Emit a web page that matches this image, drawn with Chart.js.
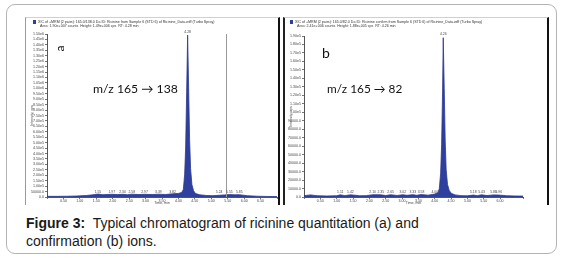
<!DOCTYPE html>
<html><head><meta charset="utf-8">
<script src="https://cdn.jsdelivr.net/npm/chart.js@4.4.1/dist/chart.umd.min.js"></script>
<style>
html,body{margin:0;padding:0;background:#fff;width:563px;height:259px;overflow:hidden;}
#frame{position:absolute;left:6px;top:4px;width:549px;height:248px;border:1px solid #b4b4b4;border-radius:9px;}
.panel{position:absolute;top:17px;height:187px;background:#fff;}
#pa{left:25px;width:252px;border-left:1px solid #9a9a9a;border-top:1px solid #d0d0d0;border-right:2px solid #111;}
#pb{left:283px;width:262px;border-left:2px solid #222;border-top:1px solid #d0d0d0;border-right:2px solid #111;}
canvas{position:absolute;left:0;top:0;}
.lbl{position:absolute;font-family:Lato,'Open Sans',sans-serif;color:#111;white-space:nowrap;}
#caption{position:absolute;left:26px;top:214px;font-family:'Liberation Sans',Arial,sans-serif;font-size:14px;line-height:18px;color:#1a1a1a;}
</style></head>
<body>
<div id="frame"></div>
<div class="panel" id="pa"><canvas id="ca" width="252" height="187"></canvas>
  <div class="lbl" style="left:31px;top:23px;font-size:12px;transform:rotate(-90deg);">a</div>
  <div class="lbl" style="left:67px;top:63px;font-size:12.2px;">m/z 165 → 138</div>
</div>
<div class="panel" id="pb"><canvas id="cb" width="262" height="187"></canvas>
  <div class="lbl" style="left:37px;top:26px;font-size:14px;">b</div>
  <div class="lbl" style="left:42px;top:63px;font-size:11.8px;">m/z 165 → 82</div>
</div>
<div id="caption"><b>Figure 3:</b>&nbsp; Typical chromatogram of ricinine quantitation (a) and<br>confirmation (b) ions.</div>
<script>
// ---- Panel a: m/z 165 -> 138 (quantitation) ----
const timesA = [0.0,0.3,0.6,0.9,1.2,1.4,1.55,1.7,1.97,2.15,2.30,2.45,2.58,2.8,2.97,3.2,3.39,3.6,3.82,4.0,4.10,4.15,4.19,4.22,4.25,4.28,4.31,4.34,4.37,4.41,4.46,4.52,4.65,4.85,5.05,5.24,5.4,5.55,5.7,5.85,6.1,6.4,6.7,7.0];
const intensA = [6000,6000,7000,9000,14000,20000,27000,21000,25000,22000,25000,21000,26000,22000,25000,22000,26000,23000,29000,33000,42000,70000,210000,460000,960000,1490000,1010000,530000,260000,115000,58000,32000,20000,14000,12000,16000,19000,23000,20000,21000,12000,7000,5000,4000];
const peakLabelsA = ["1.55","1.97","2.30","2.58","2.97","3.39","3.82","5.24","5.55","5.85"];
const apexA = "4.28";
const markerLineA = 5.45;
const headerA = ["XIC of +MRM (2 pairs): 165.0/138.0 Da ID: Ricinine from Sample 6 (STD 6) of Ricinine_Data.wiff (Turbo Spray)",
                 "Area: 1.90e+007 counts  Height: 1.49e+006 cps  RT: 4.28 min"];
// ---- Panel b: m/z 165 -> 82 (confirmation) ----
const timesB = [0.0,0.2,0.4,0.7,1.0,1.11,1.25,1.42,1.7,1.9,2.10,2.35,2.5,2.65,2.85,3.02,3.15,3.33,3.45,3.58,3.8,4.0,4.10,4.14,4.18,4.21,4.24,4.26,4.29,4.32,4.35,4.39,4.44,4.50,4.62,4.8,5.0,5.18,5.3,5.43,5.6,5.8,5.96,6.2,6.45,6.7];
const intensB = [1500,2500,1500,1200,1500,2600,1600,2600,1500,1600,2700,2600,1700,2700,1800,2700,2000,2800,2000,2900,2200,3500,5000,10000,28000,62000,125000,188000,128000,66000,32000,15000,8000,4500,2500,1600,1400,2300,1600,2600,1700,2500,2300,1500,1200,1100];
const peakLabelsB = ["1.11","1.42","2.10","2.35","2.65","3.02","3.33","3.58","4.00","5.18","5.43","5.80","5.96"];
const apexB = "4.26";
const headerB = ["XIC of +MRM (2 pairs): 165.0/82.0 Da ID: Ricinine confirm from Sample 6 (STD 6) of Ricinine_Data.wiff (Turbo Spray)",
                 "Area: 2.41e+006 counts  Height: 1.88e+005 cps  RT: 4.26 min"];

function yFmt(v){
  if (v >= 1e6) return (v/1e6).toFixed(2)+'e6';
  if (v >= 1e5) return (v/1e5).toFixed(2)+'e5';
  return v.toFixed(1);
}

const decor = {
  id:'decor',
  afterDatasetsDraw(chart, args, o){
    const ctx = chart.ctx, xs = chart.scales.x, ca = chart.chartArea;
    ctx.save();
    ctx.fillStyle = '#2e3f9e';
    ctx.fillRect(o.iconX, 2, 3, 4);
    ctx.fillStyle = '#333';
    ctx.font = '3.6px "Liberation Sans", Arial, sans-serif';
    ctx.textBaseline = 'top';
    ctx.textAlign = 'left';
    ctx.fillText(o.header[0], o.iconX + 5, 2);
    ctx.fillText(o.header[1], o.iconX + 7, 6);
    if (o.marker != null){
      const mx = Math.round(xs.getPixelForValue(o.marker)) + 0.5;
      ctx.strokeStyle = '#9a9a9a'; ctx.lineWidth = 1;
      ctx.beginPath(); ctx.moveTo(mx, ca.top); ctx.lineTo(mx, ca.bottom); ctx.stroke();
    }
    ctx.fillStyle = '#444';
    ctx.font = '3.4px "Liberation Sans", Arial, sans-serif';
    ctx.textAlign = 'center';
    ctx.textBaseline = 'bottom';
    o.labels.forEach(t => {
      const v = parseFloat(t);
      ctx.fillText(t, xs.getPixelForValue(v), ca.bottom - 3);
    });
    const av = parseFloat(o.apex);
    ctx.fillText(o.apex, xs.getPixelForValue(av), ca.top - 0.5);
    ctx.restore();
  }
};

function makeChart(id, times, intens, yMax, yStep, xMax, box, extra){
  const data = times.map((t,i)=>({x:t, y:intens[i]}));
  return new Chart(document.getElementById(id), {
    type:'line',
    data:{datasets:[{data, borderColor:'#2b3990', backgroundColor:'#2e3f9e', borderWidth:0.8, fill:'origin', pointRadius:0, tension:0}]},
    options:{
      responsive:false, animation:false, devicePixelRatio:1,
      layout:{padding:{top:box.top, right:box.right, left:0, bottom:0}},
      plugins:{legend:{display:false}, tooltip:{enabled:false}, decor:extra},
      scales:{
        x:{type:'linear', min:0, max:xMax,
           afterFit(s){ s.height = box.xh; },
           grid:{display:true, drawOnChartArea:false, drawTicks:true, tickLength:2, color:'#777'},
           border:{display:true, color:'#555', width:1},
           ticks:{stepSize:0.5, autoSkip:false, maxRotation:0, padding:0, color:'#444',
                  font:{size:3.6, family:'"Liberation Sans", Arial, sans-serif'},
                  callback:(v)=> (v>0.01 && v<xMax-0.15) ? v.toFixed(2) : ''},
           title:{display:true, text:'Time, min', color:'#444', padding:0,
                  font:{size:3.6, family:'"Liberation Sans", Arial, sans-serif'}}},
        y:{type:'linear', min:0, max:yMax,
           afterFit(s){ s.width = box.yw; },
           grid:{display:true, drawOnChartArea:false, drawTicks:true, tickLength:2, color:'#777'},
           border:{display:true, color:'#555', width:1},
           ticks:{stepSize:yStep, autoSkip:false, padding:1, color:'#444',
                  font:{size:3.6, family:'"Liberation Sans", Arial, sans-serif'},
                  callback:(v)=>yFmt(v)},
           title:{display:true, text:'Intensity, cps', color:'#444', padding:{top:4,bottom:0},
                  font:{size:3.6, family:'"Liberation Sans", Arial, sans-serif'}}}
      }
    },
    plugins:[decor]
  });
}

makeChart('ca', timesA, intensA, 1.5e6, 5e4, 7.0, {top:16, right:1, yw:21, xh:8},
  {iconX:7, header:headerA, labels:peakLabelsA, apex:apexA, marker:markerLineA});
makeChart('cb', timesB, intensB, 1.9e5, 1e4, 6.7, {top:18, right:24, yw:19, xh:8},
  {iconX:5, header:headerB, labels:peakLabelsB, apex:apexB, marker:null});
</script>
</body></html>
